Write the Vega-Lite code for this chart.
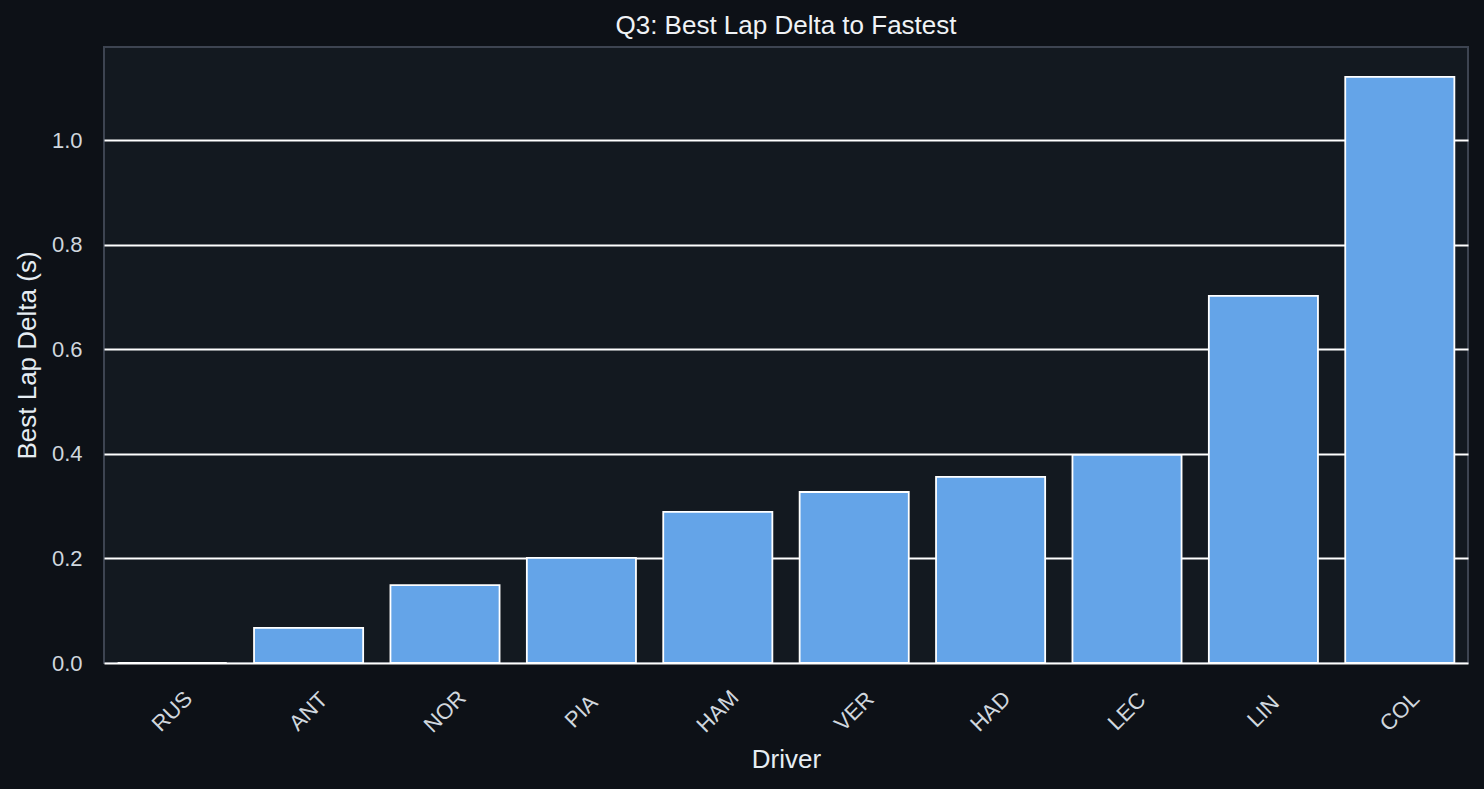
{
  "$schema": "https://vega.github.io/schema/vega-lite/v6.json",
  "autosize": "none",
  "width": 1364,
  "height": 616,
  "padding": {"left": 104, "top": 47, "right": 16, "bottom": 126},
  "background": "#0d1117",
  "title": {"text": "Q3: Best Lap Delta to Fastest", "color": "#f0f3f6", "font": "Liberation Sans", "fontSize": 26, "fontWeight": "normal", "offset": 8},
  "data": {"values": [
    {"driver": "RUS", "delta": 0.0},
    {"driver": "ANT", "delta": 0.067},
    {"driver": "NOR", "delta": 0.149},
    {"driver": "PIA", "delta": 0.201},
    {"driver": "HAM", "delta": 0.289},
    {"driver": "VER", "delta": 0.327},
    {"driver": "HAD", "delta": 0.356},
    {"driver": "LEC", "delta": 0.398},
    {"driver": "LIN", "delta": 0.702},
    {"driver": "COL", "delta": 1.121}
  ]},
  "mark": {"type": "bar", "color": "#64a4e8", "stroke": "#ffffff", "strokeWidth": 1.8},
  "encoding": {
    "x": {"field": "driver", "type": "nominal", "sort": null, "title": "Driver",
      "scale": {"paddingInner": 0.2, "paddingOuter": 0.1},
      "axis": {"grid": false, "labelAngle": -45, "labelAlign": "center", "labelBaseline": "middle", "labelPadding": 48, "labelFontSize": 22, "titleFontSize": 26, "ticks": false, "domain": false, "titlePadding": 10}},
    "y": {"field": "delta", "type": "quantitative", "title": "Best Lap Delta (s)",
      "scale": {"domain": [0, 1.178], "nice": false},
      "axis": {"grid": true, "values": [0, 0.2, 0.4, 0.6, 0.8, 1.0], "format": ".1f", "ticks": false, "domain": false, "labelPadding": 22, "labelFontSize": 22, "titleFontSize": 26, "titlePadding": 11, "gridColor": "#ffffff", "gridWidth": 1.8, "gridOpacity": 1}}
  },
  "config": {
    "font": "Liberation Sans",
    "view": {"fill": "#131920", "stroke": "#3d4451", "strokeWidth": 2},
    "axis": {"labelColor": "#d0d7de", "titleColor": "#e6edf3", "titleFontWeight": "normal"}
  }
}
